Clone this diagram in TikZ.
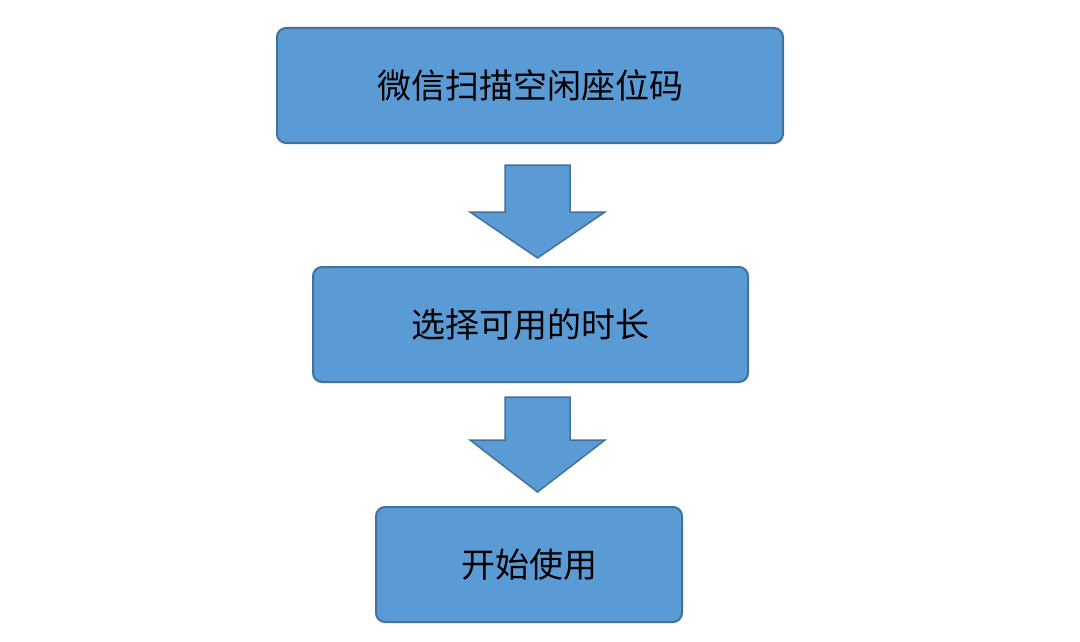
\documentclass[tikz,border=0pt]{standalone}
\usepackage{fontspec}
\setmainfont{Noto Sans CJK SC}
\definecolor{boxfill}{HTML}{5B9BD5}
\definecolor{boxline}{HTML}{41719C}
\tikzset{
  stepbox/.style={draw=boxline, line width=2pt, fill=boxfill, rounded corners=9pt,
    minimum height=115pt, inner sep=0pt, font=\fontsize{34}{40}\selectfont},
  blockarrow/.style={draw=boxline, line width=1.5pt, fill=boxfill}
}
\begin{document}
\begin{tikzpicture}[x=1pt,y=-1pt]
\useasboundingbox (0,0) rectangle (1080,642);
\node[stepbox, minimum width=506pt] (scan) at (530,85.5) {微信扫描空闲座位码};
\node[stepbox, minimum width=435pt] (pick) at (530.5,324.5) {选择可用的时长};
\node[stepbox, minimum width=306pt] (start) at (529,564.5) {开始使用};

% arrow scan -> pick
\draw[blockarrow] (505,165) -- (570,165) -- (570,212) -- (605,212) -- (537.5,258)
  -- (470,212) -- (505,212) -- cycle;
% arrow pick -> start
\draw[blockarrow] (505,397) -- (570,397) -- (570,440) -- (605,440) -- (537.5,492)
  -- (470,440) -- (505,440) -- cycle;
\end{tikzpicture}
\end{document}
